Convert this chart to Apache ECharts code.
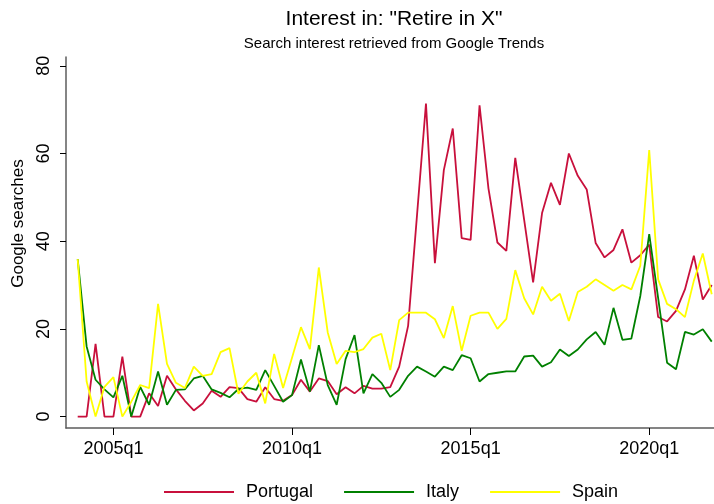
<!DOCTYPE html>
<html>
<head>
<meta charset="utf-8">
<script src="https://cdn.jsdelivr.net/npm/echarts@6/dist/echarts.min.js"></script>
<style>
  html, body { margin: 0; padding: 0; background: #fff; }
  #chart { width: 714px; height: 504px; }
</style>
</head>
<body>
<div id="chart"></div>
<script>
// quarterly labels, 2004q1 .. 2021q4
var quarters = [];
for (var yr = 2004; yr <= 2021; yr++) {
  for (var q = 1; q <= 4; q++) quarters.push(yr + 'q' + q);
}

var portugal = [0, 0, 16.6, 0, 0, 13.7, 0, 0, 5.3, 2.4, 9.3, 6.2,
  3.6, 1.4, 3, 5.9, 4.5, 6.7, 6.5, 4, 3.4, 6.7, 4, 3.6,
  4.9, 8.4, 5.7, 8.7, 8.1, 5.1, 6.7, 5.3, 7, 6.4, 6.4, 6.7,
  11.4, 20.7, 46, 71.4, 35, 56.2, 65.7, 40.7, 40.3, 71, 52, 39.7,
  37.8, 59, 44.8, 30.6, 46.4, 53.3, 48.3, 60, 54.9, 51.8, 39.6, 36.3,
  38, 42.7, 35.1, 36.8, 39.2, 22.7, 21.7, 24.1, 29, 36.7, 26.7, 30];

var italy = [35.9, 16, 8.4, 6.2, 4.4, 9.3, 0, 6.8, 2.7, 10.3, 2.7, 6.1,
  6.2, 8.7, 9.3, 6.2, 5.4, 4.4, 6.3, 6.6, 6.1, 10.6, 7, 3.4,
  4.9, 13, 5.7, 16.3, 7.2, 2.7, 13.1, 18.6, 5.3, 9.7, 7.7, 4.5,
  6.1, 9.3, 11.4, 10.3, 9.1, 11.4, 10.6, 14, 13.3, 8, 9.7, 10,
  10.3, 10.3, 13.7, 13.9, 11.4, 12.4, 15.3, 13.8, 15.3, 17.6, 19.3, 16.4,
  24.8, 17.5, 17.8, 27.5, 41.6, 27, 12.3, 10.8, 19.3, 18.7, 19.9, 17.1];

var spain = [35.9, 8, 0, 6.8, 9, 0, 3.4, 7.2, 6.5, 25.7, 12, 7.7,
  6.5, 11.4, 9.3, 9.7, 14.7, 15.6, 5.2, 8, 10, 3, 14.3, 6.5,
  13.4, 20.4, 15.4, 34, 19.2, 12, 15, 14.7, 15.4, 18, 18.9, 10.6,
  22, 23.7, 23.7, 23.7, 22.2, 17.9, 25.2, 15, 23, 23.7, 23.7, 20,
  22.3, 33.4, 27, 23.3, 29.6, 26.4, 28, 21.8, 28.4, 29.6, 31.3, 30,
  28.7, 30, 29, 34.4, 60.8, 31.3, 25.7, 24.5, 22.7, 31, 37.2, 27.9];

var xTickLabels = ['2005q1', '2010q1', '2015q1', '2020q1'];
var yTickLabels = [0, 20, 40, 60, 80];

var font = '"Liberation Sans", Arial, sans-serif';
var axisColor = '#5c5c5c';

function toPairs(arr) {
  return arr.map(function (v, i) { return [i, v]; });
}
var xTicks = xTickLabels.map(function (l) { return quarters.indexOf(l); });

var myChart = echarts.init(document.getElementById('chart'));
myChart.setOption({
  animation: false,
  backgroundColor: '#fff',
  title: {
    text: 'Interest in: "Retire in X"',
    subtext: 'Search interest retrieved from Google Trends',
    left: 389,
    top: 4,
    textAlign: 'center',
    itemGap: 6,
    textStyle: { fontFamily: font, fontSize: 21, fontWeight: 'normal', color: '#000' },
    subtextStyle: { fontFamily: font, fontSize: 15, color: '#000' }
  },
  legend: {
    left: 159,
    top: 478,
    icon: 'rect',
    itemWidth: 70,
    itemHeight: 2,
    itemGap: 31,
    textStyle: { fontFamily: font, fontSize: 18, color: '#000', padding: [0, 0, 0, 7] },
    data: ['Portugal', 'Italy', 'Spain']
  },
  grid: { left: 66, right: -8, top: 57, bottom: 76, outerBoundsMode: 'none' },
  xAxis: {
    type: 'value',
    min: -1.31,
    max: 72.15,
    axisLine: { show: true, onZero: false, lineStyle: { color: axisColor, width: 1.5 } },
    axisTick: { show: true, length: 7, customValues: xTicks, lineStyle: { color: '#000' } },
    axisLabel: {
      customValues: xTicks,
      margin: 12,
      fontFamily: font,
      fontSize: 18,
      color: '#000',
      formatter: function (v) { return quarters[v]; }
    },
    splitLine: { show: false }
  },
  yAxis: {
    type: 'value',
    min: -2.6,
    max: 82,
    name: 'Google searches',
    nameLocation: 'middle',
    nameGap: 36,
    nameTextStyle: { fontFamily: font, fontSize: 17, color: '#000', padding: [0, 0, 0, 38] },
    axisLine: { show: true, onZero: false, lineStyle: { color: axisColor, width: 1.5 } },
    axisTick: { show: true, length: 6, customValues: yTickLabels, lineStyle: { color: '#000' } },
    axisLabel: {
      customValues: yTickLabels,
      rotate: 90,
      margin: 13,
      fontFamily: font,
      fontSize: 18,
      color: '#000'
    },
    splitLine: { show: false }
  },
  series: [
    { name: 'Portugal', type: 'line', showSymbol: false, color: '#c8103c',
      lineStyle: { width: 1.8 }, data: toPairs(portugal) },
    { name: 'Italy', type: 'line', showSymbol: false, color: '#008000',
      lineStyle: { width: 1.8 }, data: toPairs(italy) },
    { name: 'Spain', type: 'line', showSymbol: false, color: '#ffff00',
      lineStyle: { width: 1.8 }, data: toPairs(spain) }
  ]
});
</script>
</body>
</html>
